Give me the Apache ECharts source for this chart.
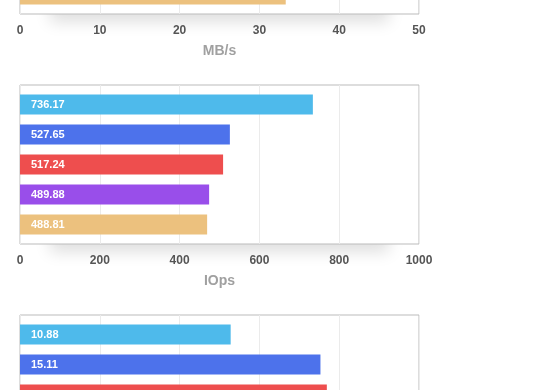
<!DOCTYPE html>
<html>
<head>
<meta charset="utf-8">
<script src="https://cdn.jsdelivr.net/npm/echarts@6/dist/echarts.min.js"></script>
<style>
html,body{margin:0;padding:0;background:#fff;overflow:hidden;width:560px;height:390px;}
#wrap{position:absolute;left:0;top:-200px;width:560px;height:800px;}
</style>
</head>
<body>
<div id="wrap"></div>
<script>
// ---- data ----
const seriesNames = ['S1', 'S2', 'S3', 'S4', 'S5'];
const category = ['run'];

// chart 1 (MB/s) - only the last bar is visible in the picture
const mbpsValues = [null, null, null, null, 33.3];
const mbpsLabels = ['', '', '', '', ''];
const mbpsTicks = { min: 0, max: 50, interval: 10 };

// chart 2 (IOps)
const iopsValues = [734, 526, 509, 474, 469];
const iopsLabels = ['736.17', '527.65', '517.24', '489.88', '488.81'];
const iopsTicks = { min: 0, max: 1000, interval: 200 };

// chart 3 - only the first bars are visible
const c3Values = [10.56, 15.06, 15.38, null, null];
const c3Labels = ['10.88', '15.11', '', '', ''];
const c3Ticks = { min: 0, max: 20, interval: 4 };

const axisNames = ['MB/s', 'IOps', ''];

// ---- styles ----
const colors = ['#4EBAEB', '#4D72EB', '#EE4E4E', '#994EEA', '#ECC17E'];
const FONT = '"Liberation Sans", Arial, Helvetica, sans-serif';

const charts = [
  { values: mbpsValues, labels: mbpsLabels, ticks: mbpsTicks, name: axisNames[0] },
  { values: iopsValues, labels: iopsLabels, ticks: iopsTicks, name: axisNames[1] },
  { values: c3Values, labels: c3Labels, ticks: c3Ticks, name: axisNames[2] }
];

const gridLeft = 20, gridW = 399, gridTop0 = 55, gridH = 159, gridStep = 230;

const grid = [], xAxis = [], yAxis = [], series = [], graphic = [];
charts.forEach((c, gi) => {
  const top = gridTop0 + gi * gridStep;
  grid.push({
    left: gridLeft, width: gridW, top: top, height: gridH,
    show: true, backgroundColor: '#fff', borderColor: '#bbb', borderWidth: 1
  });
  // soft shadow under the grid only (decoration)
  graphic.push({
    type: 'rect', z: -10,
    shape: { x: gridLeft + 30, y: top + gridH - 30, width: gridW - 60, height: 30 },
    style: { fill: '#fff', shadowBlur: 16, shadowColor: 'rgba(0,0,0,0.13)', shadowOffsetY: 8 },
    silent: true
  });
  xAxis.push({
    gridIndex: gi, type: 'value', min: c.ticks.min, max: c.ticks.max, interval: c.ticks.interval,
    name: c.name, nameLocation: 'middle', nameGap: 30,
    nameTextStyle: { fontFamily: FONT, fontSize: 14, fontWeight: 'bold', color: '#a0a0a0' },
    axisLine: { show: false }, axisTick: { show: false },
    axisLabel: { fontFamily: FONT, fontSize: 12, fontWeight: 'bold', color: '#555', margin: 11,
                 formatter: v => String(v) },
    splitLine: { show: true, lineStyle: { color: '#ebebeb', width: 1 } }
  });
  yAxis.push({
    gridIndex: gi, type: 'category', data: category,
    axisLine: { show: false }, axisTick: { show: false }, axisLabel: { show: false },
    splitLine: { show: false }
  });
  c.values.forEach((v, si) => {
    series.push({
      type: 'bar', name: seriesNames[si], xAxisIndex: gi, yAxisIndex: gi,
      barWidth: 20, barGap: '50%',
      data: [v],
      itemStyle: { color: colors[si] },
      label: {
        show: true, position: 'insideLeft', distance: 11,
        formatter: () => c.labels[si],
        fontFamily: FONT, fontSize: 11, fontWeight: 'bold', color: '#fff'
      },
      silent: true, animation: false
    });
  });
});

const chart = echarts.init(document.getElementById('wrap'), null, { renderer: 'canvas' });
chart.setOption({ animation: false, grid, xAxis, yAxis, series, graphic });
</script>
</body>
</html>
